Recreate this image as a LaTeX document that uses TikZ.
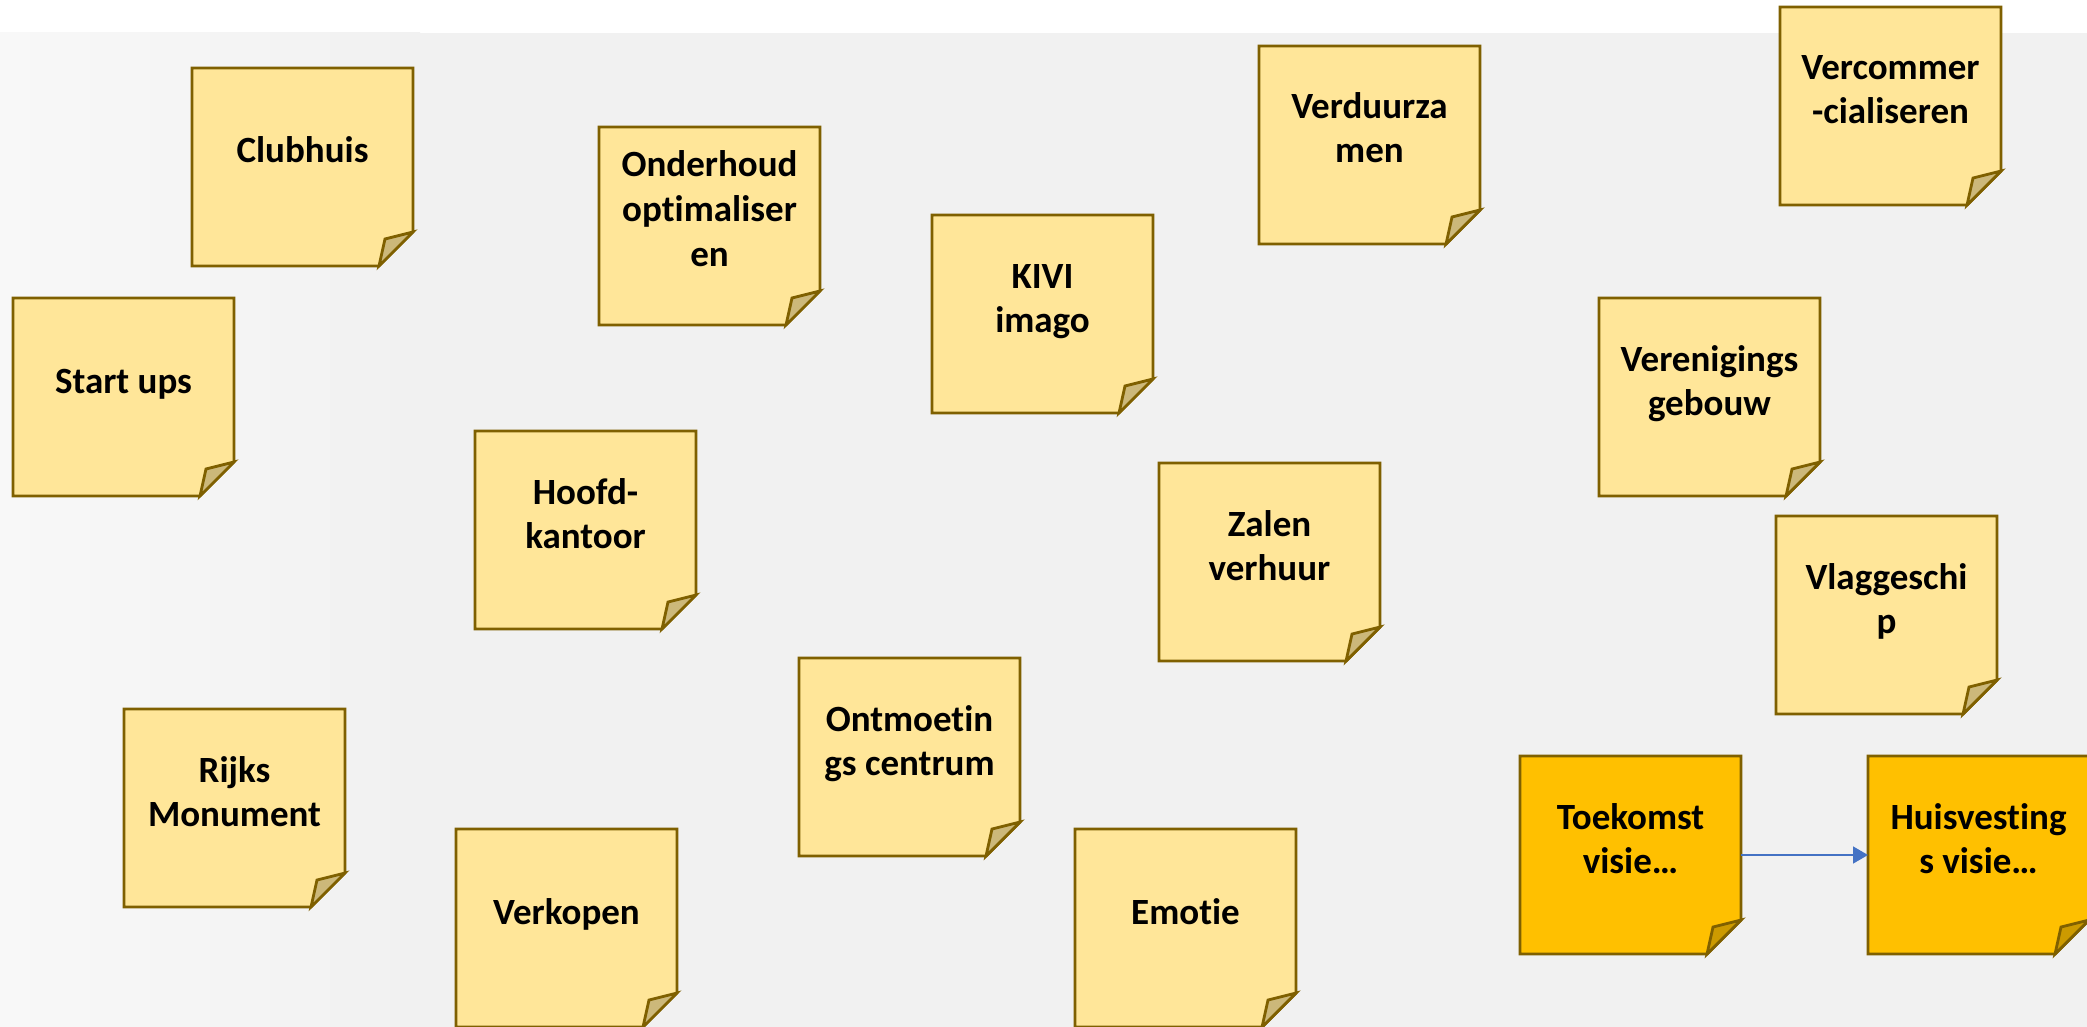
\documentclass[tikz,border=0pt]{standalone}
\usepackage{fontspec}
\setmainfont{Carlito}[Ligatures={NoCommon}]
\usetikzlibrary{calc,arrows.meta}
\definecolor{bgGray}{HTML}{F1F1F1}
\definecolor{bgLight}{HTML}{F8F8F8}
\definecolor{noteLight}{HTML}{FFE699}
\definecolor{foldLight}{HTML}{CCB87A}
\definecolor{noteGold}{HTML}{FFC000}
\definecolor{foldGold}{HTML}{CC9A00}
\definecolor{noteEdge}{HTML}{7F6000}
\definecolor{arrowBlue}{HTML}{4472C4}
\tikzset{
  notebody/.style={rectangle, inner sep=0pt, outer sep=0pt, minimum width=110.5pt, minimum height=99pt},
  noteedge/.style={draw=noteEdge, line width=1.4pt, line join=miter},
  notetext/.style={font=\bfseries\fontsize{18.5}{22}\selectfont, inner sep=0pt, anchor=base, text=black},
  link/.style={draw=arrowBlue, line width=0.75pt, -{Triangle[length=7.5pt,width=8.5pt]}}
}
\newcommand\sticky[5]{%
  \node[notebody] (#1) at (#2+110.5,#3+99) {};
  \filldraw[noteedge, fill=#4] (#1.north west) -- (#1.north east) -- ($(#1.south east)+(0,-34)$) -- ($(#1.south east)+(-34,0)$) -- (#1.south west) -- cycle;
  \filldraw[noteedge, fill=#5] ($(#1.south east)+(-34,0)$) -- ($(#1.south east)+(-28,-27)$) -- ($(#1.south east)+(0,-34)$) -- cycle;
}
\newcommand\lineone[2]{\node[notetext] (#1t1) at ($(#1.north)+(0,95)$) {#2};}
\newcommand\linetwo[3]{%
  \node[notetext] (#1t1) at ($(#1.north)+(0,73)$) {#2};
  \node[notetext] (#1t2) at ($(#1.north)+(0,117)$) {#3};}
\newcommand\linethree[4]{%
  \node[notetext] (#1t1) at ($(#1.north)+(0,50)$) {#2};
  \node[notetext] (#1t2) at ($(#1.north)+(0,95)$) {#3};
  \node[notetext] (#1t3) at ($(#1.north)+(0,139)$) {#4};}
\begin{document}
\begin{tikzpicture}[x=0.5pt,y=-0.5pt]
\useasboundingbox (0,0) rectangle (2087,1027);
\clip (0,0) rectangle (2087,1027);
\fill[white] (0,0) rectangle (2087,1027);
\fill[bgGray] (0,33) rectangle (2087,1027);
\shade[left color=bgLight, right color=bgGray] (0,33) rectangle (420,1027);

\sticky{n1}{192}{68}{noteLight}{foldLight}
\lineone{n1}{Clubhuis}
\sticky{n2}{13}{298}{noteLight}{foldLight}
\lineone{n2}{Start ups}
\sticky{n3}{599}{127}{noteLight}{foldLight}
\linethree{n3}{Onderhoud}{optimaliser}{en}
\sticky{n4}{932}{215}{noteLight}{foldLight}
\linetwo{n4}{KIVI}{imago}
\sticky{n5}{1259}{46}{noteLight}{foldLight}
\linetwo{n5}{Verduurza}{men}
\sticky{n6}{1780}{7}{noteLight}{foldLight}
\linetwo{n6}{Vercommer}{-cialiseren}
\sticky{n7}{1599}{298}{noteLight}{foldLight}
\linetwo{n7}{Verenigings}{gebouw}
\sticky{n8}{475}{431}{noteLight}{foldLight}
\linetwo{n8}{Hoofd-}{kantoor}
\sticky{n9}{1159}{463}{noteLight}{foldLight}
\linetwo{n9}{Zalen}{verhuur}
\sticky{n10}{1776}{516}{noteLight}{foldLight}
\linetwo{n10}{Vlaggeschi}{p}
\sticky{n11}{124}{709}{noteLight}{foldLight}
\linetwo{n11}{Rijks}{Monument}
\sticky{n12}{799}{658}{noteLight}{foldLight}
\linetwo{n12}{Ontmoetin}{gs centrum}
\sticky{n13}{456}{829}{noteLight}{foldLight}
\lineone{n13}{Verkopen}
\sticky{n14}{1075}{829}{noteLight}{foldLight}
\lineone{n14}{Emotie}
\sticky{n15}{1520}{756}{noteGold}{foldGold}
\linetwo{n15}{Toekomst}{visie…}
\sticky{n16}{1868}{756}{noteGold}{foldGold}
\linetwo{n16}{Huisvesting}{s visie…}

\draw[link] (n15.east) -- (n16.west);
\end{tikzpicture}
\end{document}
